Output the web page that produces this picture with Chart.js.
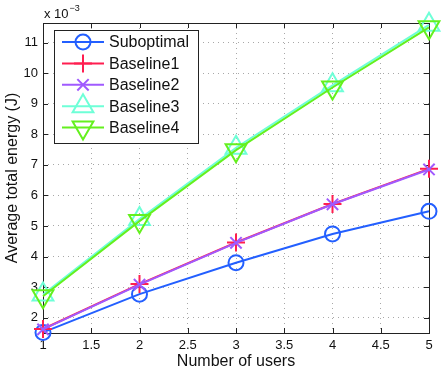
<!DOCTYPE html>
<html>
<head>
<meta charset="utf-8">
<style>
  html, body { margin: 0; padding: 0; background: #fff; }
  #wrap { width: 443px; height: 371px; }
</style>
<script src="https://cdn.jsdelivr.net/npm/chart.js@4.4.0/dist/chart.umd.min.js"></script>
</head>
<body>
<div id="wrap"><canvas id="energyChart" width="443" height="371"></canvas></div>
<script>
// number of users on the x axis
const users = [1, 2, 3, 4, 5];

// average total energy, in units of 1e-3 J
const suboptimal = [1.52, 2.77, 3.80, 4.74, 5.48];
const baseline1 = [1.63, 3.10, 4.46, 5.72, 6.87];
const baseline2 = [1.62, 3.08, 4.45, 5.71, 6.85];
const baseline3 = [2.76, 5.23, 7.56, 9.60, 11.58];
const baseline4 = [2.70, 5.16, 7.48, 9.53, 11.50];

const xTicks = [1, 1.5, 2, 2.5, 3, 3.5, 4, 4.5, 5];
const yTicks = [2, 3, 4, 5, 6, 7, 8, 9, 10, 11];

const seriesNames = ['Suboptimal', 'Baseline1', 'Baseline2', 'Baseline3', 'Baseline4'];
const seriesData = [suboptimal, baseline1, baseline2, baseline3, baseline4];
const seriesColors = ['#235fff', '#ff1e50', '#a05aff', '#6effd7', '#64f01e'];
const seriesMarkers = [
  { pointStyle: 'circle', radius: 7.5, rotation: 0 },
  { pointStyle: 'cross', radius: 9, rotation: 0 },
  { pointStyle: 'crossRot', radius: 8, rotation: 0 },
  { pointStyle: 'triangle', radius: 12, rotation: 0 },
  { pointStyle: 'triangle', radius: 12, rotation: 180 }
];

const FONT = '"Liberation Sans", Arial, Helvetica, sans-serif';

// later series drawn on top (as in the original plot)
const datasets = seriesNames.map((name, i) => ({
  label: name,
  data: users.map((u, k) => ({ x: u, y: seriesData[i][k] })),
  borderColor: seriesColors[i],
  backgroundColor: 'rgba(0,0,0,0)',
  borderWidth: 2,
  pointStyle: seriesMarkers[i].pointStyle,
  pointRadius: seriesMarkers[i].radius,
  pointRotation: seriesMarkers[i].rotation,
  pointBorderWidth: 2,
  pointBackgroundColor: 'rgba(0,0,0,0)',
  order: seriesNames.length - i,
  clip: false,
  tension: 0
}));

// frame, inward ticks, axis titles, exponent and legend in matlab style
const matlabDecor = {
  id: 'matlabDecor',
  beforeDatasetsDraw(chart) {
    const ctx = chart.ctx;
    const a = chart.chartArea;
    const xs = chart.scales.x, ys = chart.scales.y;
    ctx.save();

    // box
    ctx.strokeStyle = '#222';
    ctx.lineWidth = 1;
    ctx.setLineDash([]);
    ctx.strokeRect(Math.round(a.left) + 0.5, Math.round(a.top) + 0.5,
      Math.round(a.right - a.left), Math.round(a.bottom - a.top));

    // inward ticks on all four sides
    const tl = 5;
    ctx.beginPath();
    xTicks.forEach(v => {
      const px = Math.round(xs.getPixelForValue(v)) + 0.5;
      ctx.moveTo(px, a.bottom); ctx.lineTo(px, a.bottom - tl);
      ctx.moveTo(px, a.top); ctx.lineTo(px, a.top + tl);
    });
    yTicks.forEach(v => {
      const py = Math.round(ys.getPixelForValue(v)) + 0.5;
      ctx.moveTo(a.left, py); ctx.lineTo(a.left + tl, py);
      ctx.moveTo(a.right, py); ctx.lineTo(a.right - tl, py);
    });
    ctx.stroke();
    ctx.restore();
  },
  afterDraw(chart) {
    const ctx = chart.ctx;
    const a = chart.chartArea;
    ctx.save();

    // axis titles
    ctx.fillStyle = '#111';
    ctx.font = '16px ' + FONT;
    ctx.textAlign = 'center';
    ctx.textBaseline = 'middle';
    ctx.fillText('Number of users', (a.left + a.right) / 2, 362);
    ctx.save();
    ctx.translate(13, (a.top + a.bottom) / 2);
    ctx.rotate(-Math.PI / 2);
    ctx.fillText('Average total energy (J)', 0, 0);
    ctx.restore();

    // exponent label
    ctx.textAlign = 'left';
    ctx.textBaseline = 'alphabetic';
    ctx.font = '13px ' + FONT;
    ctx.fillText('x 10', 44, 18);
    const w = ctx.measureText('x 10').width;
    ctx.font = '9px ' + FONT;
    ctx.fillText('\u22123', 44 + w + 1, 11);

    // legend
    const lx = 54, ly = 30, lw = 144, lh = 113;
    ctx.fillStyle = '#fff';
    ctx.fillRect(lx, ly, lw, lh);
    ctx.strokeStyle = '#222';
    ctx.lineWidth = 1;
    ctx.strokeRect(lx + 0.5, ly + 0.5, lw, lh);
    seriesNames.forEach((name, i) => {
      const y = 42 + i * 21.4;
      ctx.strokeStyle = seriesColors[i];
      ctx.lineWidth = 2;
      ctx.beginPath();
      ctx.moveTo(62, y); ctx.lineTo(104, y);
      ctx.stroke();
      ctx.fillStyle = 'rgba(0,0,0,0)';
      Chart.helpers.drawPoint(ctx, {
        pointStyle: seriesMarkers[i].pointStyle,
        radius: seriesMarkers[i].radius,
        rotation: seriesMarkers[i].rotation,
        borderWidth: 2
      }, 83, y);
      ctx.fillStyle = '#111';
      ctx.font = '16px ' + FONT;
      ctx.textAlign = 'left';
      ctx.textBaseline = 'middle';
      ctx.fillText(name, 109, y + 1);
    });
    ctx.restore();
  }
};

const ctx = document.getElementById('energyChart').getContext('2d');

const energyChart = new Chart(ctx, {
  type: 'line',
  data: { datasets: datasets },
  options: {
    responsive: false,
    animation: false,
    layout: { padding: { top: 23, right: 12, left: 0, bottom: 0 } },
    plugins: {
      legend: { display: false },
      tooltip: { enabled: false }
    },
    scales: {
      x: {
        type: 'linear',
        min: 1,
        max: 5,
        afterBuildTicks: s => { s.ticks = xTicks.map(v => ({ value: v })); },
        afterFit: s => { s.height = 38; },
        grid: { color: '#a8a8a8', lineWidth: 1, drawTicks: false },
        border: { display: false, dash: [1, 4] },
        ticks: {
          padding: 5,
          color: '#111',
          font: { family: FONT, size: 13 },
          maxRotation: 0,
          callback: v => String(v)
        }
      },
      y: {
        type: 'linear',
        min: 1.5,
        max: 11.64,
        afterBuildTicks: s => { s.ticks = yTicks.map(v => ({ value: v })); },
        afterFit: s => { s.width = 43; },
        grid: { color: '#a8a8a8', lineWidth: 1, drawTicks: false },
        border: { display: false, dash: [1, 4] },
        ticks: {
          padding: 5,
          color: '#111',
          font: { family: FONT, size: 13 },
          callback: v => String(v)
        }
      }
    }
  },
  plugins: [matlabDecor]
});
</script>
</body>
</html>
